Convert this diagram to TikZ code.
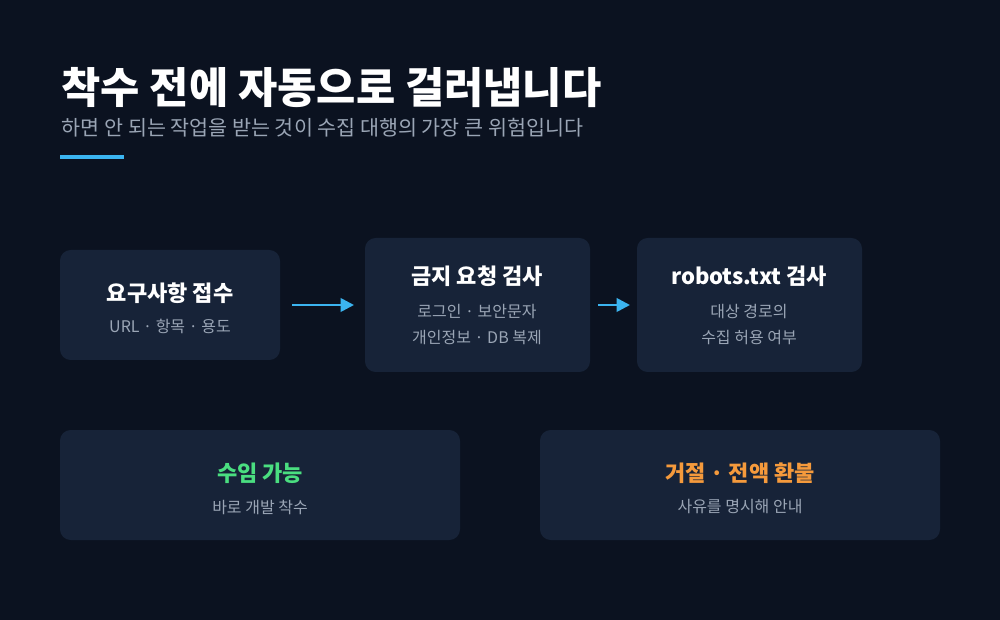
\documentclass[tikz,border=0pt]{standalone}
\usepackage{fontspec}
\setmainfont{Noto Sans CJK KR}
\usetikzlibrary{arrows.meta}
\definecolor{bg}{HTML}{0B1220}
\definecolor{box}{HTML}{172338}
\definecolor{acc}{HTML}{3BB4F0}
\definecolor{sub}{HTML}{9AA5B5}
\definecolor{grn}{HTML}{4ADE80}
\definecolor{org}{HTML}{F59A3C}
\begin{document}
\begin{tikzpicture}[x=0.75pt,y=-0.75pt,
  card/.style={fill=box,rounded corners=8pt,draw=none},
  ttl/.style={text=white,font=\fontsize{16.5}{19}\selectfont\bfseries,anchor=center},
  st/.style={text=sub,font=\fontsize{12}{14}\selectfont,anchor=center},
  arr/.style={draw=acc,line width=2pt,-{Triangle[length=10pt,width=10pt]}}]
\fill[bg] (0,0) rectangle (1000,620);
\useasboundingbox (0,0) rectangle (1000,620);
\node[anchor=west,text=white,font=\fontsize{32}{36}\selectfont\bfseries] (title) at (57,88) {착수 전에 자동으로 걸러냅니다};
\node[anchor=west,text=sub,font=\fontsize{15.5}{18}\selectfont] (subt) at (57,128) {하면 안 되는 작업을 받는 것이 수집 대행의 가장 큰 위험입니다};
\fill[acc] (60,155) rectangle (124,159);
\fill[card] (60,250) rectangle (280,360);
\node[ttl] (t1) at (170,293) {요구사항 접수};
\node[st] (s1) at (170,326) {URL · 항목 · 용도};
\fill[card] (365,238) rectangle (590,372);
\node[ttl] (t2) at (477,276) {금지 요청 검사};
\node[st] (s2a) at (477,312) {로그인 · 보안문자};
\node[st] (s2b) at (477,338) {개인정보 · DB 복제};
\fill[card] (637,238) rectangle (862,372);
\node[ttl] (t3) at (749,276) {robots.txt 검사};
\node[st] (s3a) at (749,312) {대상 경로의};
\node[st] (s3b) at (749,338) {수집 허용 여부};
\coordinate (a1s) at (292,305); \coordinate (a1e) at (354,305);
\coordinate (a2s) at (598,305); \coordinate (a2e) at (630,305);
\draw[arr] (a1s) -- (a1e);
\draw[arr] (a2s) -- (a2e);
\fill[card] (60,430) rectangle (460,540);
\node[ttl,text=grn] (t4) at (260,473) {수임 가능};
\node[st] (s4) at (260,507) {바로 개발 착수};
\fill[card] (540,430) rectangle (940,540);
\node[ttl,text=org] (t5) at (740,473) {거절 · 전액 환불};
\node[st] (s5) at (740,507) {사유를 명시해 안내};
\end{tikzpicture}
\end{document}
